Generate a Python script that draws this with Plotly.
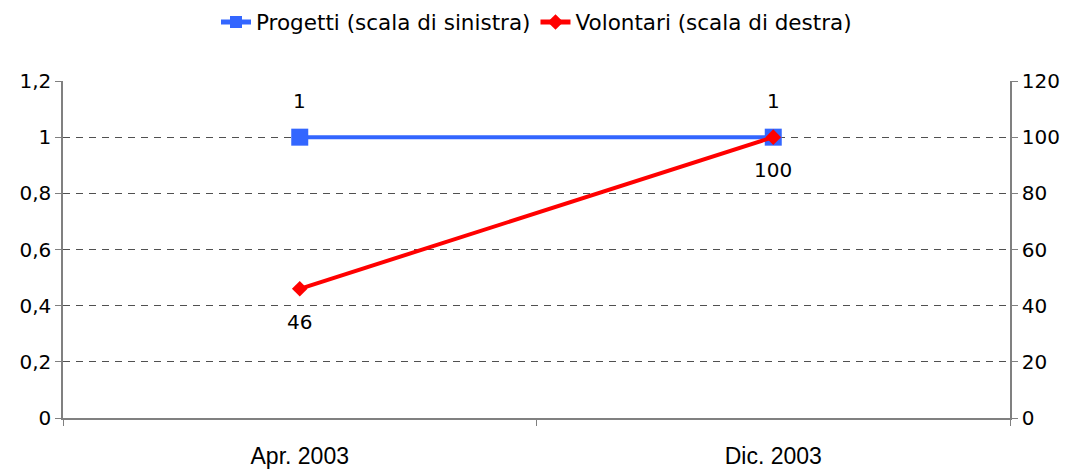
import plotly.graph_objects as go

categories = ["Apr. 2003", "Dic. 2003"]
progetti = [1, 1]
volontari = [46, 100]
left_ticks = [0, 0.2, 0.4, 0.6, 0.8, 1, 1.2]
left_labels = ["0", "0,2", "0,4", "0,6", "0,8", "1", "1,2"]
right_ticks = [0, 20, 40, 60, 80, 100, 120]

FONT = "DejaVu Sans"
FS = 20
fig = go.Figure()
fig.add_trace(go.Scatter(
    x=categories, y=progetti, name="Progetti (scala di sinistra)",
    mode="lines+markers",
    line=dict(color="#3366FF", width=4),
    marker=dict(symbol="square", size=17, color="#3366FF"),
    yaxis="y", cliponaxis=False,
))
fig.add_trace(go.Scatter(
    x=categories, y=volontari, name="Volontari (scala di destra)",
    mode="lines+markers",
    line=dict(color="#FF0000", width=4),
    marker=dict(symbol="diamond", size=12, color="#FF0000"),
    yaxis="y2", cliponaxis=False,
))

annotations = []
for c, v in zip(categories, progetti):
    annotations.append(dict(x=c, y=v, xref="x", yref="y", text=str(v), showarrow=False,
                            yshift=36, font=dict(family=FONT, size=FS, color="black")))
for c, v in zip(categories, volontari):
    annotations.append(dict(x=c, y=v, xref="x", yref="y2", text=str(v), showarrow=False,
                            yshift=-33, font=dict(family=FONT, size=FS, color="black")))

fig.update_layout(
    width=1075, height=473,
    margin=dict(l=55, r=73, t=73, b=63),
    plot_bgcolor="white", paper_bgcolor="white",
    font=dict(family=FONT, size=FS, color="black"),
    showlegend=True,
    annotations=annotations,
    legend=dict(orientation="h", x=0.5, xanchor="center", y=1 - 14 / 473, yanchor="middle",
                yref="container", itemsizing="constant", font=dict(family=FONT, size=21.5)),
    xaxis=dict(
        type="category", range=[-0.5, 1.5], automargin=False,
        showline=True, linecolor="#808080", linewidth=1.5,
        ticks="outside", tickson="boundaries", ticklen=6, tickcolor="#808080",
        showgrid=False, tickfont=dict(family="Liberation Sans", size=23),
        ticklabelstandoff=17,
    ),
    yaxis=dict(
        range=[0, 1.2], tickvals=left_ticks, ticktext=left_labels, automargin=False,
        showline=True, linecolor="#808080", linewidth=1.5,
        ticks="outside", ticklen=6, tickcolor="#808080",
        showgrid=True, gridcolor="#505050", griddash="7px,6px", gridwidth=1,
        zeroline=False, tickfont=dict(family=FONT, size=FS),
    ),
    yaxis2=dict(
        range=[0, 120], tickvals=right_ticks, overlaying="y", side="right", automargin=False,
        showline=True, linecolor="#808080", linewidth=1.5,
        ticks="outside", ticklen=6, tickcolor="#808080",
        showgrid=False, zeroline=False, tickfont=dict(family=FONT, size=FS),
    ),
)
fig.write_html("out.html")
